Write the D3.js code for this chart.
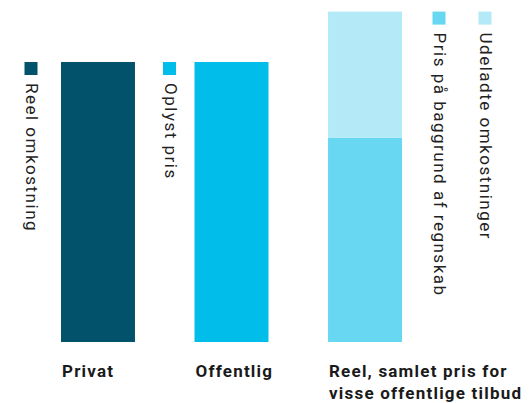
<!DOCTYPE html>
<html>
<head>
<meta charset="utf-8">
<script src="https://cdn.jsdelivr.net/npm/d3@7"></script>
<style>
  body { margin: 0; background: #fff; }
  svg { font-family: Roboto, "Noto Sans", sans-serif; }
</style>
</head>
<body>
<svg id="chart" width="531" height="403"></svg>
<script>
(function () {
    'use strict';

    var categories = ['Privat', 'Offentlig', 'Reel'];
    var categoryLabels = [['Privat'], ['Offentlig'], ['Reel, samlet pris for', 'visse offentlige tilbud']];
    var seriesNames = ['Reel omkostning', 'Oplyst pris', 'Pris på baggrund af regnskab', 'Udeladte omkostninger'];
    var seriesColors = ['#02526b', '#00bee9', '#68d7f1', '#b4eaf7'];
    // stacked values per category: [series index, value]
    var privatValues = [[0, 100]];
    var offentligValues = [[1, 100]];
    var reelValues = [[2, 73], [3, 45]];

    var data = [privatValues, offentligValues, reelValues].map(function (v, i) {
        var y0 = 0;
        return {
            cat: categories[i],
            segs: v.map(function (d) {
                var s = {series: d[0], y0: y0, y1: y0 + d[1]};
                y0 += d[1];
                return s;
            })
        };
    });

    var svg = d3.select('#chart');

    var x = d3.scaleBand()
        .domain(categories)
        .range([61, 402])
        .paddingInner(0.446)
        .paddingOuter(0);

    var y = d3.scaleLinear()
        .domain([0, 100])
        .range([342, 62]);

    var bars = svg.append('g');
    data.forEach(function (d) {
        bars.selectAll(null)
            .data(d.segs)
            .enter().append('rect')
            .attr('x', x(d.cat))
            .attr('width', x.bandwidth())
            .attr('y', function (s) { return y(s.y1); })
            .attr('height', function (s) { return y(s.y0) - y(s.y1); })
            .attr('fill', function (s) { return seriesColors[s.series]; });
    });

    // legends: square + rotated text
    function legend(series, lx, top) {
        var g = svg.append('g');
        g.append('rect')
            .attr('x', lx - 6.5)
            .attr('y', top)
            .attr('width', 13)
            .attr('height', 13)
            .attr('fill', seriesColors[series]);
        g.append('text')
            .attr('transform', 'translate(' + (lx - 5) + ',' + (top + 21) + ') rotate(90)')
            .attr('font-size', 17)
            .attr('letter-spacing', 1.5)
            .attr('fill', '#222')
            .text(seriesNames[series]);
    }

    var top2 = y(100), top3 = y(118);
    legend(0, x('Privat') - 30, top2);
    legend(1, x('Offentlig') - 25, top2);
    legend(2, x('Reel') + x.bandwidth() + 37, top3);
    legend(3, x('Reel') + x.bandwidth() + 83, top3);

    // category labels
    categories.forEach(function (c, i) {
        var t = svg.append('text')
            .attr('x', x(c) + 1)
            .attr('y', 377)
            .attr('font-size', 17)
            .attr('font-weight', 'bold')
            .attr('letter-spacing', 1.2)
            .attr('fill', '#1a1a1a');
        t.selectAll('tspan')
            .data(categoryLabels[i])
            .enter().append('tspan')
            .attr('x', x(c) + 1)
            .attr('dy', function (d, j) { return j ? 22 : 0; })
            .text(function (d) { return d; });
    });
}());
</script>
</body>
</html>
